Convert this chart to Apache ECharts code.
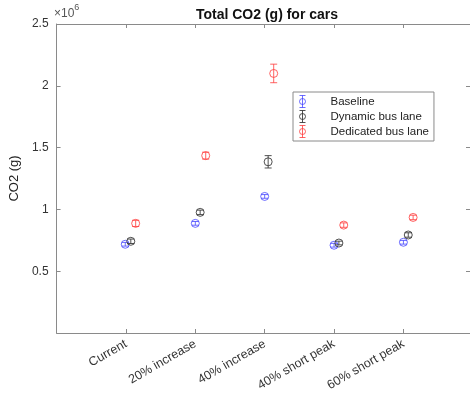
<!DOCTYPE html>
<html>
<head>
<meta charset="utf-8">
<script src="https://cdn.jsdelivr.net/npm/echarts@6/dist/echarts.min.js"></script>
<style>
  html, body { margin: 0; padding: 0; background: #fff; }
  #chart { width: 470px; height: 402px; }
</style>
</head>
<body>
<div id="chart"></div>
<script>
// scenarios on the x axis
const categories = ["Current", "20% increase", "40% increase", "40% short peak", "60% short peak"];
const seriesNames = ["Baseline", "Dynamic bus lane", "Dedicated bus lane"];

// x positions (scenario index, slightly offset per series as in the plot)
const baselineX  = [0.99, 2.0, 3.0, 4.0, 5.0];
const dynamicX   = [1.07, 2.07, 3.05, 4.07, 5.07];
const dedicatedX = [1.14, 2.15, 3.13, 4.14, 5.14];

// mean total CO2 (g) and error half-widths (g)
const baselineVal  = [718000, 887000, 1105000, 710000, 734000];
const baselineErr  = [15000, 15000, 15000, 15000, 15000];
const dynamicVal   = [742000, 976000, 1385000, 728000, 793000];
const dynamicErr   = [18000, 18000, 50000, 15000, 18000];
const dedicatedVal = [887000, 1435000, 2100000, 873000, 935000];
const dedicatedErr = [25000, 28000, 75000, 18000, 18000];

const yTicks = [0, 0.5, 1, 1.5, 2, 2.5];

const colors = ["rgba(60,60,255,0.75)", "rgba(50,50,50,0.85)", "rgba(255,60,60,0.8)"];
const font = "Liberation Sans, Arial, sans-serif";

function rows(xs, vals, errs) {
  return xs.map((x, i) => [x, vals[i], errs[i]]);
}

function renderErr(params, api) {
  const x = api.value(0), y = api.value(1), e = api.value(2);
  const c = api.coord([x, y]);
  const top = api.coord([x, y + e]);
  const bot = api.coord([x, y - e]);
  const col = api.visual("color");
  const cap = 3.5, r = 4;
  const st = { stroke: col, lineWidth: 1, fill: null };
  return {
    type: "group",
    children: [
      { type: "line", shape: { x1: c[0], y1: top[1], x2: c[0], y2: bot[1] }, style: st },
      { type: "line", shape: { x1: c[0] - cap, y1: top[1], x2: c[0] + cap, y2: top[1] }, style: st },
      { type: "line", shape: { x1: c[0] - cap, y1: bot[1], x2: c[0] + cap, y2: bot[1] }, style: st },
      { type: "circle", shape: { cx: c[0], cy: c[1], r: r }, style: { stroke: col, lineWidth: 1, fill: "transparent" } }
    ]
  };
}

const errIcon = "path://M0,0 L8,0 M4,0 L4,16 M0,16 L8,16 M4,4 A4,4 0 1,1 4,12 A4,4 0 1,1 4,4";

const chart = echarts.init(document.getElementById("chart"));

const lineCol = "#8a8a8a";
const axisLine = { show: true, onZero: false, lineStyle: { color: lineCol, width: 1 } };
const axisTick = { show: true, inside: true, length: 4, lineStyle: { color: lineCol } };

const option = {
  backgroundColor: "#fff",
  animation: false,
  title: {
    text: "Total CO2 (g) for cars",
    left: 262,
    top: 3,
    textAlign: "center",
    textStyle: { fontFamily: font, fontSize: 14, fontWeight: "bold", color: "#111" }
  },
  graphic: [
    {
      type: "text",
      left: 54,
      top: 3,
      style: {
        text: "{a|×10}{b|6}",
        rich: {
          a: { fontFamily: font, fontSize: 12, fill: "#555", padding: [5, 0, 0, 0] },
          b: { fontFamily: font, fontSize: 9, fill: "#555", verticalAlign: "top" }
        }
      }
    }
  ],
  legend: {
    orient: "vertical",
    left: 293,
    top: 92,
    backgroundColor: "#fff",
    borderColor: lineCol,
    borderWidth: 1,
    padding: [3, 5, 3, 6],
    itemWidth: 26,
    itemHeight: 12,
    itemGap: 2,
    formatter: n => "{s|}{t|" + n + "}",
    textStyle: {
      fontFamily: font, fontSize: 11.5, color: "#222",
      rich: {
        s: { width: 10 },
        t: { fontFamily: font, fontSize: 11.5, color: "#222" }
      }
    },
    data: seriesNames.map((n, i) => ({
      name: n,
      icon: errIcon,
      itemStyle: { color: "transparent", borderColor: colors[i], borderWidth: 1 }
    }))
  },
  grid: { left: 53, right: -1, top: 24, bottom: 69 },
  xAxis: [
    {
      type: "value",
      min: 0,
      max: 5.96,
      interval: 1,
      axisLine: axisLine,
      axisTick: axisTick,
      splitLine: { show: false },
      axisLabel: {
        rotate: 30,
        fontFamily: font,
        fontSize: 12.5,
        color: "#333",
        margin: 10,
        showMinLabel: false,
        showMaxLabel: false,
        formatter: v => (Number.isInteger(v) && v >= 1 && v <= categories.length) ? categories[v - 1] : ""
      }
    },
    {
      type: "value",
      position: "top",
      min: 0,
      max: 5.96,
      interval: 1,
      axisLine: axisLine,
      axisTick: axisTick,
      axisLabel: { show: false },
      splitLine: { show: false }
    }
  ],
  yAxis: [
    {
      type: "value",
      min: 0,
      max: 2500000,
      interval: 500000,
      name: "CO2 (g)",
      nameLocation: "middle",
      nameGap: 26,
      nameTextStyle: { fontFamily: font, fontSize: 13, color: "#222" },
      axisLine: axisLine,
      axisTick: axisTick,
      splitLine: { show: false },
      axisLabel: {
        fontFamily: font,
        fontSize: 12,
        color: "#333",
        margin: 8,
        showMinLabel: false,
        formatter: v => String(yTicks.find(t => Math.abs(t * 1e6 - v) < 1) ?? v / 1e6)
      }
    },
    {
      type: "value",
      position: "right",
      min: 0,
      max: 2500000,
      interval: 500000,
      axisLine: axisLine,
      axisTick: axisTick,
      axisLabel: { show: false },
      splitLine: { show: false }
    }
  ],
  series: [
    { name: seriesNames[0], type: "custom", renderItem: renderErr, itemStyle: { color: colors[0] }, data: rows(baselineX, baselineVal, baselineErr) },
    { name: seriesNames[1], type: "custom", renderItem: renderErr, itemStyle: { color: colors[1] }, data: rows(dynamicX, dynamicVal, dynamicErr) },
    { name: seriesNames[2], type: "custom", renderItem: renderErr, itemStyle: { color: colors[2] }, data: rows(dedicatedX, dedicatedVal, dedicatedErr) }
  ]
};

chart.setOption(option);
</script>
</body>
</html>
